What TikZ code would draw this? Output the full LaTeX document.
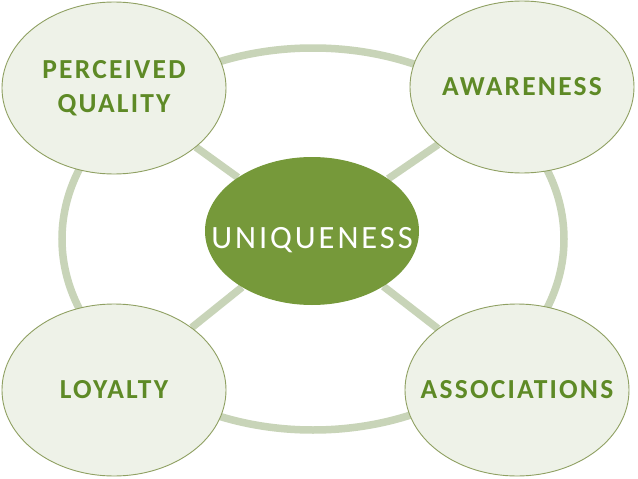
\documentclass[tikz,border=0pt]{standalone}
\usepackage{fontspec}
\setmainfont{Carlito}
\usetikzlibrary{backgrounds,shapes.geometric}
\definecolor{leafdark}{HTML}{76993A}
\definecolor{leaftext}{HTML}{5E8A26}
\definecolor{leafpale}{HTML}{EEF2E8}
\definecolor{leafline}{HTML}{8FA062}
\definecolor{leafring}{HTML}{C8D4B8}
\tikzset{
  every picture/.append style={line cap=round,line join=round},
  brand core/.style={ellipse,fill=leafdark,text=white,minimum width=214pt,minimum height=148pt,inner sep=0pt,
    font=\fontsize{32.5}{34}\selectfont\addfontfeature{LetterSpace=9}},
  brand part/.style={ellipse,draw=leafline,line width=0.9pt,fill=leafpale,text=leaftext,minimum width=224pt,minimum height=172pt,inner sep=0pt,align=center,
    font=\bfseries\fontsize{27.5}{34}\selectfont\addfontfeature{LetterSpace=8}},
  brand ring/.style={ellipse,draw=leafring,line width=7.5pt,minimum width=502pt,minimum height=382pt,inner sep=0pt},
  brand link/.style={leafring,line width=7.5pt}
}
\newcommand\nowide[1]{\makebox[0pt]{#1}}
\begin{document}
\begin{tikzpicture}[x=1pt,y=-1pt]
\useasboundingbox (0,0) rectangle (638,479);

\node[brand core] (uniq) at (312,231) {\nowide{\raisebox{-17pt}[0pt][0pt]{UNIQUENESS}}};
\node[brand part] (qual) at (114,88) {\nowide{PERCEIVED}\\\nowide{QUALITY}};
\node[brand part] (aware) at (522,87) {\nowide{AWARENESS}};
\node[brand part] (loyal) at (114,390) {\nowide{LOYALTY}};
\node[brand part] (assoc) at (517,390) {\nowide{ASSOCIATIONS}};

\begin{pgfonlayer}{background}
\fill[white] (0,0) rectangle (638,479);
\node[brand ring] (ring) at (313,239) {};
\foreach \part in {qual,aware,loyal,assoc}
  \draw[brand link] (uniq) -- (\part);
\end{pgfonlayer}
\end{tikzpicture}
\end{document}
